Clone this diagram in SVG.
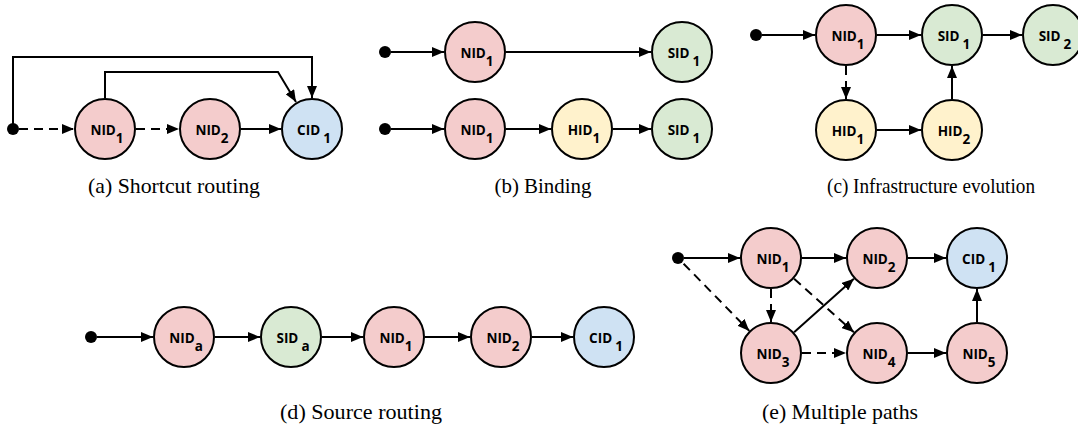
<svg xmlns="http://www.w3.org/2000/svg" width="1078" height="430" viewBox="0 0 1078 430">
<style>
.n circle{stroke:#000;stroke-width:2}
.nid{fill:#f4cccc}.sid{fill:#d9ead3}.hid{fill:#fff2cc}.cid{fill:#cfe2f3}
.lbl{font-family:"Open Sans","DejaVu Sans",sans-serif;font-weight:bold;font-size:13.5px;fill:#000;text-anchor:middle}
.e path{fill:none;stroke:#000;stroke-width:2;marker-end:url(#ah)}
.e path.d{stroke-dasharray:9 6}
.dot{fill:#000}
.cap{font-family:"Liberation Serif","Times New Roman",serif;font-size:21px;fill:#000;text-anchor:middle}
</style>
<defs>
<marker id="ah" markerUnits="userSpaceOnUse" markerWidth="12" markerHeight="10" refX="12" refY="5" orient="auto"><path d="M0,0 L12,5 L0,10 z" fill="#000"/></marker>
</defs>

<g id="connectors" class="e">
<!-- (a) -->
<path class="d" d="M19,129 L74,129"/>
<path class="d" d="M136,129 L179,129"/>
<path d="M241,129 L281,129"/>
<path d="M13,129 L13,57 L312,57 L312,98"/>
<path d="M105,98 L105,72 L278,72 L296,102"/>
<!-- (b) -->
<path d="M391,52 L444,52"/>
<path d="M506,52 L651,52"/>
<path d="M391,129 L444,129"/>
<path d="M506,129 L551,129"/>
<path d="M613,129 L651,129"/>
<!-- (c) -->
<path d="M762,35 L815,35"/>
<path d="M877,35 L921,35"/>
<path d="M983,35 L1022,35"/>
<path class="d" d="M846,66 L846,99"/>
<path d="M877,130 L921,130"/>
<path d="M952,99 L952,66"/>
<!-- (d) -->
<path d="M97,337 L153,337"/>
<path d="M215,337 L260,337"/>
<path d="M322,337 L363,337"/>
<path d="M425,337 L470,337"/>
<path d="M532,337 L573,337"/>
<!-- (e) -->
<path d="M684,258 L740,258"/>
<path d="M802,258 L846,258"/>
<path d="M908,258 L946,258"/>
<path class="d" d="M771,289 L771,322"/>
<path class="d" d="M683.6,263.7 L749.3,330.9"/>
<path class="d" d="M794.1,278.7 L853.9,332.3"/>
<path d="M794.1,332.3 L853.9,278.7"/>
<path class="d" d="M802,353 L846,353"/>
<path d="M908,353 L946,353"/>
<path d="M977,322 L977,289"/>
</g>

<!-- start dots -->
<g id="start-a"><circle class="dot" cx="13" cy="129" r="6"/></g>
<g id="start-b1"><circle class="dot" cx="385" cy="52" r="6"/></g>
<g id="start-b2"><circle class="dot" cx="385" cy="129" r="6"/></g>
<g id="start-c"><circle class="dot" cx="756" cy="35" r="6"/></g>
<g id="start-d"><circle class="dot" cx="91" cy="337" r="6"/></g>
<g id="start-e"><circle class="dot" cx="678" cy="258" r="6"/></g>

<!-- (a) nodes -->
<g id="a-nid1" class="n"><circle class="nid" cx="105" cy="129" r="30"/><text class="lbl" x="107" y="135">NID<tspan dy="8">1</tspan></text></g>
<g id="a-nid2" class="n"><circle class="nid" cx="210" cy="129" r="30"/><text class="lbl" x="212" y="135">NID<tspan dy="8">2</tspan></text></g>
<g id="a-cid1" class="n"><circle class="cid" cx="312" cy="129" r="30"/><text class="lbl" x="314" y="135">CID<tspan dx="3" dy="8">1</tspan></text></g>

<!-- (b) nodes -->
<g id="b-nid1-top" class="n"><circle class="nid" cx="475" cy="52" r="30"/><text class="lbl" x="477" y="58">NID<tspan dy="8">1</tspan></text></g>
<g id="b-sid1-top" class="n"><circle class="sid" cx="682" cy="52" r="30"/><text class="lbl" x="684" y="58">SID<tspan dx="3" dy="8">1</tspan></text></g>
<g id="b-nid1-bot" class="n"><circle class="nid" cx="475" cy="129" r="30"/><text class="lbl" x="477" y="135">NID<tspan dy="8">1</tspan></text></g>
<g id="b-hid1" class="n"><circle class="hid" cx="582" cy="129" r="30"/><text class="lbl" x="584" y="135">HID<tspan dy="8">1</tspan></text></g>
<g id="b-sid1-bot" class="n"><circle class="sid" cx="682" cy="129" r="30"/><text class="lbl" x="684" y="135">SID<tspan dx="3" dy="8">1</tspan></text></g>

<!-- (c) nodes -->
<g id="c-nid1" class="n"><circle class="nid" cx="846" cy="35" r="30"/><text class="lbl" x="848" y="41">NID<tspan dy="8">1</tspan></text></g>
<g id="c-sid1" class="n"><circle class="sid" cx="952" cy="35" r="30"/><text class="lbl" x="954" y="41">SID<tspan dx="3" dy="8">1</tspan></text></g>
<g id="c-sid2" class="n"><circle class="sid" cx="1053" cy="35" r="30"/><text class="lbl" x="1055" y="41">SID<tspan dx="3" dy="8">2</tspan></text></g>
<g id="c-hid1" class="n"><circle class="hid" cx="846" cy="130" r="30"/><text class="lbl" x="848" y="136">HID<tspan dy="8">1</tspan></text></g>
<g id="c-hid2" class="n"><circle class="hid" cx="952" cy="130" r="30"/><text class="lbl" x="954" y="136">HID<tspan dy="8">2</tspan></text></g>

<!-- (d) nodes -->
<g id="d-nida" class="n"><circle class="nid" cx="184" cy="337" r="30"/><text class="lbl" x="186" y="343">NID<tspan dy="8">a</tspan></text></g>
<g id="d-sida" class="n"><circle class="sid" cx="291" cy="337" r="30"/><text class="lbl" x="293" y="343">SID<tspan dx="3" dy="8">a</tspan></text></g>
<g id="d-nid1" class="n"><circle class="nid" cx="394" cy="337" r="30"/><text class="lbl" x="396" y="343">NID<tspan dy="8">1</tspan></text></g>
<g id="d-nid2" class="n"><circle class="nid" cx="501" cy="337" r="30"/><text class="lbl" x="503" y="343">NID<tspan dy="8">2</tspan></text></g>
<g id="d-cid1" class="n"><circle class="cid" cx="604" cy="337" r="30"/><text class="lbl" x="606" y="343">CID<tspan dx="3" dy="8">1</tspan></text></g>

<!-- (e) nodes -->
<g id="e-nid1" class="n"><circle class="nid" cx="771" cy="258" r="30"/><text class="lbl" x="773" y="264">NID<tspan dy="8">1</tspan></text></g>
<g id="e-nid2" class="n"><circle class="nid" cx="877" cy="258" r="30"/><text class="lbl" x="879" y="264">NID<tspan dy="8">2</tspan></text></g>
<g id="e-cid1" class="n"><circle class="cid" cx="977" cy="258" r="30"/><text class="lbl" x="979" y="264">CID<tspan dx="3" dy="8">1</tspan></text></g>
<g id="e-nid3" class="n"><circle class="nid" cx="771" cy="353" r="30"/><text class="lbl" x="773" y="359">NID<tspan dy="8">3</tspan></text></g>
<g id="e-nid4" class="n"><circle class="nid" cx="877" cy="353" r="30"/><text class="lbl" x="879" y="359">NID<tspan dy="8">4</tspan></text></g>
<g id="e-nid5" class="n"><circle class="nid" cx="977" cy="353" r="30"/><text class="lbl" x="979" y="359">NID<tspan dy="8">5</tspan></text></g>

<!-- captions -->
<g id="captions">
<text class="cap" x="174" y="193" textLength="172" lengthAdjust="spacingAndGlyphs">(a) Shortcut routing</text>
<text class="cap" x="543" y="193" textLength="97" lengthAdjust="spacingAndGlyphs">(b) Binding</text>
<text class="cap" x="931" y="193" textLength="208" lengthAdjust="spacingAndGlyphs">(c) Infrastructure evolution</text>
<text class="cap" x="361" y="419" textLength="162" lengthAdjust="spacingAndGlyphs">(d) Source routing</text>
<text class="cap" x="840" y="419" textLength="156" lengthAdjust="spacingAndGlyphs">(e) Multiple paths</text>
</g>
</svg>
